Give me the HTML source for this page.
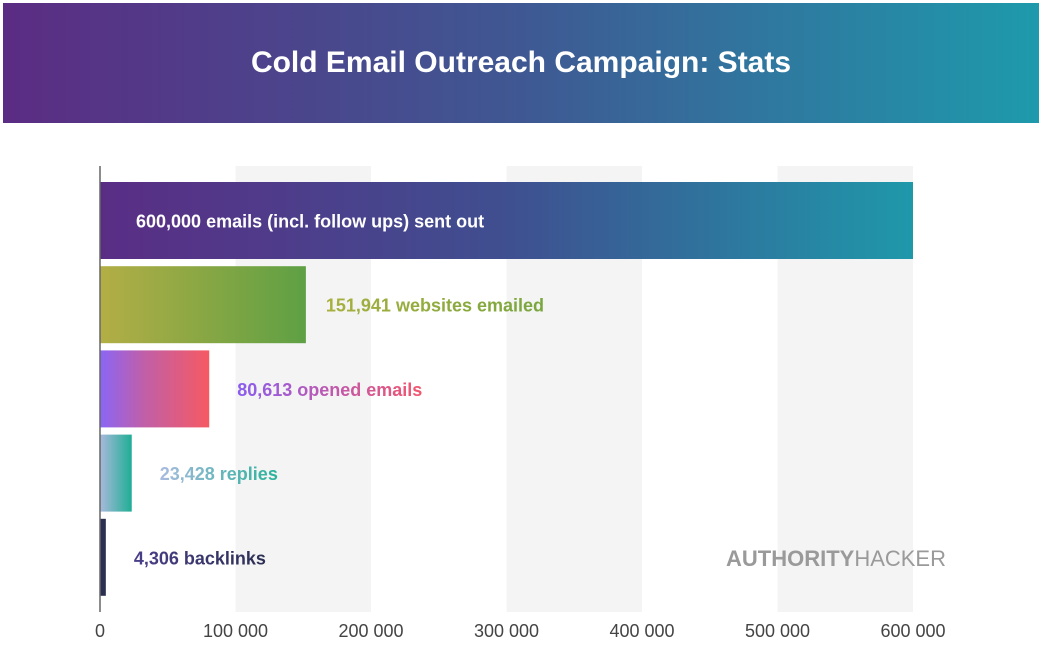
<!DOCTYPE html>
<html><head><meta charset="utf-8"><style>
html,body{margin:0;padding:0;background:#fff;}
svg{display:block;font-family:"Liberation Sans",sans-serif;}
</style></head><body>
<svg id="c" width="1042" height="646" viewBox="0 0 1042 646">
<defs>
<linearGradient id="hg" x1="0" x2="1"><stop offset="0" stop-color="#5b2c83"/><stop offset="0.5" stop-color="#3f5893"/><stop offset="1" stop-color="#1e9aac"/></linearGradient>
<linearGradient id="g0" x1="0" x2="1"><stop offset="0" stop-color="#5a2d85"/><stop offset="0.5" stop-color="#3f4f90"/><stop offset="1" stop-color="#1f98aa"/></linearGradient>
<linearGradient id="g1" x1="0" x2="1"><stop offset="0" stop-color="#b3ae45"/><stop offset="1" stop-color="#5ea044"/></linearGradient>
<linearGradient id="g2" x1="0" x2="1"><stop offset="0" stop-color="#8a66f5"/><stop offset="0.4" stop-color="#c05fa8"/><stop offset="1" stop-color="#f65a62"/></linearGradient>
<linearGradient id="g3" x1="0" x2="1"><stop offset="0" stop-color="#a9b9dc"/><stop offset="1" stop-color="#1fae94"/></linearGradient>
<linearGradient id="g4" x1="0" x2="1"><stop offset="0" stop-color="#2c2f52"/><stop offset="1" stop-color="#2c2f52"/></linearGradient>
<linearGradient id="t1" x1="0" x2="1"><stop offset="0" stop-color="#a8b03e"/><stop offset="1" stop-color="#79a63e"/></linearGradient>
<linearGradient id="t2" x1="0" x2="1"><stop offset="0" stop-color="#8a5cf0"/><stop offset="1" stop-color="#f2566d"/></linearGradient>
<linearGradient id="t3" x1="0" x2="1"><stop offset="0" stop-color="#a9bbdf"/><stop offset="1" stop-color="#2bb29a"/></linearGradient>
<linearGradient id="t4" x1="0" x2="1"><stop offset="0" stop-color="#4a3f8a"/><stop offset="1" stop-color="#2c2f52"/></linearGradient>
</defs>
<rect x="3" y="3" width="1036" height="120" fill="url(#hg)"/>
<text x="521" y="72" text-anchor="middle" fill="#fff" font-size="30" font-weight="bold">Cold Email Outreach Campaign: Stats</text>
<g id="bands"></g>
<g id="bars"></g>
<g id="ticks"></g>
<text x="946" y="566" text-anchor="end" font-size="22" font-weight="bold" fill="#9a9a9a">AUTHORITY<tspan font-weight="normal">HACKER</tspan></text>
</svg>
<script>
const categories = ["sent", "websites", "opened", "replies", "backlinks"];
const values = [600000, 151941, 80613, 23428, 4306];
const labels = ["600,000 emails (incl. follow ups) sent out", "151,941 websites emailed", "80,613 opened emails", "23,428 replies", "4,306 backlinks"];
const ticks = [0, 100000, 200000, 300000, 400000, 500000, 600000];
const tickLabels = ["0", "100 000", "200 000", "300 000", "400 000", "500 000", "600 000"];

const NS = "http://www.w3.org/2000/svg";
const x0 = 100, x1 = 913, yTop = 166, yBottom = 612;
const xs = v => x0 + (v / 600000) * (x1 - x0);
const barStart = 182, barStep = 84.2, barH = 77;
function mk(tag, attrs, parent) {
  const e = document.createElementNS(NS, tag);
  for (const k in attrs) e.setAttribute(k, attrs[k]);
  parent.appendChild(e);
  return e;
}
const bandsG = document.getElementById('bands');
for (let i = 1; i < ticks.length; i += 2) {
  const r = mk('rect', {x: xs(ticks[i]), y: yTop, width: xs(ticks[i + 1]) - xs(ticks[i]), height: yBottom - yTop, fill: '#f4f4f5'}, bandsG);
  
  
}
const barsG = document.getElementById('bars');
const textFills = ['#fff', 'url(#t1)', 'url(#t2)', 'url(#t3)', 'url(#t4)'];
categories.forEach((c, i) => {
  const y = barStart + i * barStep;
  const w = Math.max(xs(values[i]) - x0, 2);
  const r = mk('rect', {x: x0, y: y, width: w, height: barH, fill: 'url(#g' + i + ')'}, barsG);
  
  
  const tx = i === 0 ? 136 : xs(values[i]) + (i === 1 ? 20 : 28);
  const t = mk('text', {x: tx, y: y + barH / 2 + 7, 'font-size': 18, 'font-weight': 'bold', fill: textFills[i]}, barsG);
  t.textContent = labels[i];
  
  
});
const ax = mk('line', {x1: x0, x2: x0, y1: yTop, y2: yBottom, stroke: '#666', 'stroke-width': 1.5}, barsG);


const ticksG = document.getElementById('ticks');
ticks.forEach((t, i) => {
  const e = mk('text', {x: xs(t), y: 637, 'text-anchor': 'middle', 'font-size': 18, fill: '#444'}, ticksG);
  e.textContent = tickLabels[i];
  
  
});
</script>
</body></html>
